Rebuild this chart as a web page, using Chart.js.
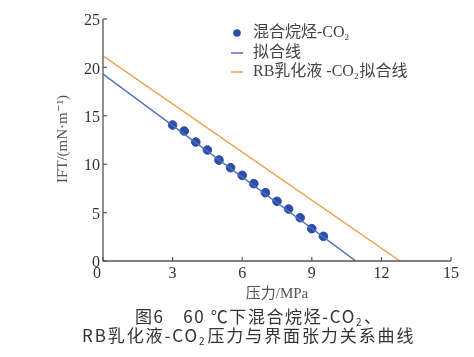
<!DOCTYPE html>
<html><head><meta charset="utf-8">
<script src="https://cdn.jsdelivr.net/npm/chart.js@4"></script>
<style>html,body{margin:0;padding:0;background:#fff;}#wrap{width:474px;height:357px;}</style>
</head><body><div id="wrap"><canvas id="c" width="474" height="357"></canvas></div>
<script>
const pressure = [3, 3.5, 4, 4.5, 5, 5.5, 6, 6.5, 7, 7.5, 8, 8.5, 9, 9.5];
const ift = [14.05, 13.43, 12.29, 11.47, 10.43, 9.64, 8.85, 7.99, 7.06, 6.17, 5.37, 4.47, 3.34, 2.55];
const fitX = [0, 10.9];
const fitY = [19.3, 0];
const rbX = [0, 12.8];
const rbY = [21.2, 0];
const xTicks = [0, 3, 6, 9, 12, 15];
const yTicks = [0, 5, 10, 15, 20, 25];
const legendLabels = ['混合烷烃-CO', '拟合线', 'RB乳化液 -CO'];
const xTitle = '压力/MPa';
const yTitle = 'IFT/(mN·m⁻¹)';
const captionLine1 = '图6　60 ℃下混合烷烃-CO';
const captionLine2a = 'RB乳化液-CO';
const captionLine2b = '压力与界面张力关系曲线';

const serif = '"Liberation Serif","DejaVu Serif","Noto Sans CJK SC",serif';
const sans = '"Noto Sans CJK SC","Liberation Sans",sans-serif';
const axisColor = '#555';
const ptColor = '#2a4ea6';
const fitColor = '#4f6fbf';
const rbColor = '#f0a24e';

const pts = (xs, ys) => xs.map((x, i) => ({x, y: ys[i]}));

const deco = {
  id: 'deco',
  afterDraw(chart) {
    const ctx = chart.ctx;
    const xs = chart.scales.x, ys = chart.scales.y;
    const L = xs.left, R = xs.right, T = ys.top, B = ys.bottom;
    ctx.save();
    ctx.strokeStyle = axisColor; ctx.lineWidth = 1.3;
    ctx.beginPath(); ctx.moveTo(L, T); ctx.lineTo(L, B); ctx.lineTo(R, B); ctx.stroke();
    ctx.lineWidth = 1.2;
    xTicks.forEach(v => { const p = xs.getPixelForValue(v); ctx.beginPath(); ctx.moveTo(p, B); ctx.lineTo(p, B - 4); ctx.stroke(); });
    yTicks.forEach(v => { const p = ys.getPixelForValue(v); ctx.beginPath(); ctx.moveTo(L, p); ctx.lineTo(L + 4, p); ctx.stroke(); });
    ctx.fillStyle = '#333'; ctx.font = '16px ' + serif;
    ctx.textBaseline = 'middle';
    ctx.textAlign = 'center';
    xTicks.forEach(v => { let p = xs.getPixelForValue(v); if (v === 0) p -= 6; ctx.fillText(String(v), p, B + 13); });
    ctx.textAlign = 'right';
    yTicks.forEach(v => { const p = ys.getPixelForValue(v); ctx.fillText(String(v), L - 3, p + 2); });
    ctx.textAlign = 'center';
    ctx.font = '15px ' + serif;
    ctx.fillStyle = '#555';
    ctx.fillText(xTitle, (L + R) / 2, B + 33);
    ctx.save(); ctx.translate(63, 139); ctx.rotate(-Math.PI / 2);
    ctx.fillText(yTitle, 0, 0); ctx.restore();
    // legend
    const lx = 237;
    const rows = [33, 53, 72];
    ctx.fillStyle = ptColor; ctx.beginPath(); ctx.arc(lx, rows[0], 3.8, 0, Math.PI * 2); ctx.fill();
    ctx.strokeStyle = fitColor; ctx.lineWidth = 1.5; ctx.beginPath(); ctx.moveTo(lx - 6, rows[1]); ctx.lineTo(lx + 6, rows[1]); ctx.stroke();
    ctx.strokeStyle = rbColor; ctx.beginPath(); ctx.moveTo(lx - 6, rows[2]); ctx.lineTo(lx + 6, rows[2]); ctx.stroke();
    ctx.fillStyle = '#444'; ctx.textAlign = 'left';
    const tx = 253;
    function sub(text, x, y, after, fam, size, ssize) {
      ctx.font = size + 'px ' + fam; ctx.fillText(text, x, y);
      let w = ctx.measureText(text).width;
      ctx.font = ssize + 'px ' + fam; ctx.fillText('2', x + w, y + 5);
      let w2 = ctx.measureText('2').width;
      if (after) { ctx.font = size + 'px ' + fam; ctx.fillText(after, x + w + w2 + 1, y); }
    }
    sub(legendLabels[0], tx, rows[0], null, serif, 16, 9);
    ctx.font = '16px ' + serif; ctx.fillText(legendLabels[1], tx, rows[1]);
    sub(legendLabels[2], tx, rows[2], '拟合线', serif, 16, 9);
    // caption
    ctx.fillStyle = '#333';
    ctx.letterSpacing = '1.6px';
    sub(captionLine1, 135, 317, '、', sans, 17, 10);
    ctx.letterSpacing = '1.9px';
    sub(captionLine2a, 82, 336, captionLine2b, sans, 17, 10);
    ctx.letterSpacing = '0px';
    ctx.restore();
  }
};

new Chart(document.getElementById('c'), {
  type: 'scatter',
  data: {
    datasets: [
      { label: legendLabels[2], type: 'line', data: pts(rbX, rbY), borderColor: rbColor, borderWidth: 1.5, pointRadius: 0, fill: false },
      { label: legendLabels[1], type: 'line', data: pts(fitX, fitY), borderColor: fitColor, borderWidth: 1.5, pointRadius: 0, fill: false },
      { label: legendLabels[0], data: pts(pressure, ift), backgroundColor: ptColor, borderColor: ptColor, pointRadius: 4.3 }
    ]
  },
  options: {
    responsive: false, animation: false,
    layout: { padding: { left: 0, right: 23, top: 19, bottom: 0 } },
    plugins: { legend: { display: false }, tooltip: { enabled: false } },
    scales: {
      x: { type: 'linear', min: 0, max: 15, grid: { display: false }, border: { display: false },
           ticks: { display: false }, afterFit(s) { s.height = 96; } },
      y: { type: 'linear', min: 0, max: 25, grid: { display: false }, border: { display: false },
           ticks: { display: false }, afterFit(s) { s.width = 103; } }
    }
  },
  plugins: [deco]
});
</script></body></html>
